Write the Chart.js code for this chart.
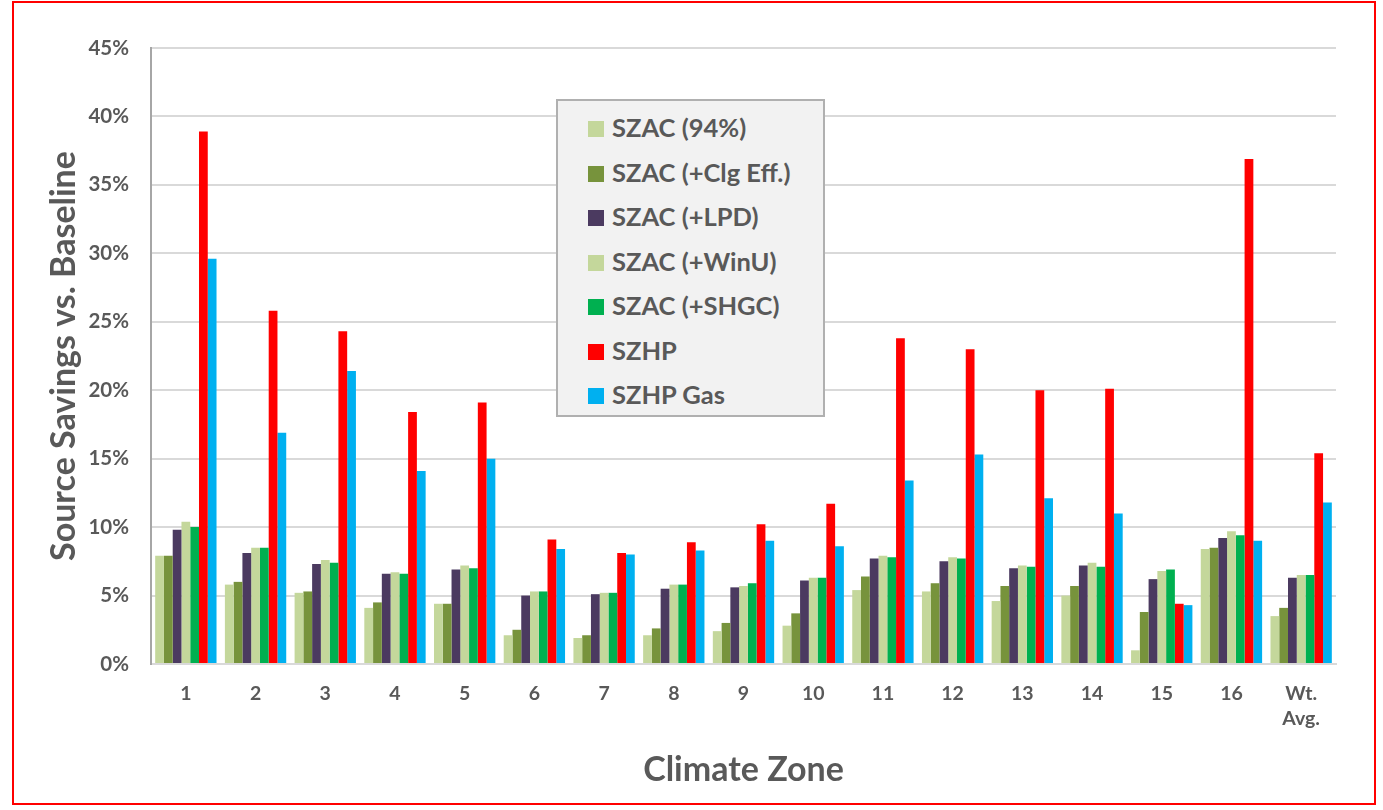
<!DOCTYPE html>
<html>
<head>
<meta charset="utf-8">
<script src="https://cdn.jsdelivr.net/npm/chart.js@4.4.1/dist/chart.umd.min.js"></script>
<style>
  html, body { margin: 0; padding: 0; background: #fff; }
  #wrap { position: relative; width: 1383px; height: 810px; overflow: hidden; }
  #frame { position: absolute; left: 12px; top: 1px; width: 1364px; height: 804px; border: 2px solid #ff0000; box-sizing: border-box; pointer-events: none; }
  #legend { position: absolute; left: 556px; top: 99px; width: 269px; height: 318px; background: #f2f2f2; border: 2px solid #b0b0b0; box-sizing: border-box; font-family: Lato, "Open Sans", sans-serif; font-weight: bold; color: #595959; font-size: 25.5px; padding-top: 4px; }
  .item { position: relative; height: 44.5px; line-height: 44.5px; padding-left: 54px; white-space: nowrap; }
  .sw { position: absolute; left: 30px; top: 16px; width: 16px; height: 16px; }
</style>
</head>
<body>
<div id="wrap">
  <canvas id="c" width="1383" height="810"></canvas>
  <div id="legend"></div>
  <div id="frame"></div>
</div>
<script>
const categories = ['1','2','3','4','5','6','7','8','9','10','11','12','13','14','15','16',['Wt.','Avg.']];
const seriesNames = ['SZAC (94%)','SZAC (+Clg Eff.)','SZAC (+LPD)','SZAC (+WinU)','SZAC (+SHGC)','SZHP','SZHP Gas'];
const seriesColors = ['#c4d79b','#77933c','#4b3a60','#c4d79b','#00b050','#ff0000','#00b0f0'];
const szac94   = [7.9, 5.8, 5.2, 4.1, 4.4, 2.1, 1.9, 2.1, 2.4, 2.8, 5.4, 5.3, 4.6, 5.0, 1.0, 8.4, 3.5];
const szacClg  = [7.9, 6.0, 5.3, 4.5, 4.4, 2.5, 2.1, 2.6, 3.0, 3.7, 6.4, 5.9, 5.7, 5.7, 3.8, 8.5, 4.1];
const szacLpd  = [9.8, 8.1, 7.3, 6.6, 6.9, 5.0, 5.1, 5.5, 5.6, 6.1, 7.7, 7.5, 7.0, 7.2, 6.2, 9.2, 6.3];
const szacWinU = [10.4, 8.5, 7.6, 6.7, 7.2, 5.3, 5.2, 5.8, 5.7, 6.3, 7.9, 7.8, 7.2, 7.4, 6.8, 9.7, 6.5];
const szacShgc = [10.0, 8.5, 7.4, 6.6, 7.0, 5.3, 5.2, 5.8, 5.9, 6.3, 7.8, 7.7, 7.1, 7.1, 6.9, 9.4, 6.5];
const szhp     = [38.9, 25.8, 24.3, 18.4, 19.1, 9.1, 8.1, 8.9, 10.2, 11.7, 23.8, 23.0, 20.0, 20.1, 4.4, 36.9, 15.4];
const szhpGas  = [29.6, 16.9, 21.4, 14.1, 15.0, 8.4, 8.0, 8.3, 9.0, 8.6, 13.4, 15.3, 12.1, 11.0, 4.3, 9.0, 11.8];
const yTicks = [0,5,10,15,20,25,30,35,40,45];

const allSeries = [szac94, szacClg, szacLpd, szacWinU, szacShgc, szhp, szhpGas];
const FONT = 'Lato, "Open Sans", sans-serif';
const GRAY = '#595959';

const chart = new Chart(document.getElementById('c'), {
  type: 'bar',
  data: {
    labels: categories,
    datasets: allSeries.map((d, i) => ({
      label: seriesNames[i],
      data: d,
      backgroundColor: seriesColors[i],
      borderWidth: 0,
      barPercentage: 1.0,
      categoryPercentage: 0.88
    }))
  },
  options: {
    responsive: false,
    animation: false,
    layout: { padding: { top: 48, right: 47, left: 0, bottom: 0 } },
    plugins: { legend: { display: false }, tooltip: { enabled: false } },
    scales: {
      x: {
        grid: { display: false, drawTicks: false },
        border: { color: '#d9d9d9', width: 2 },
        ticks: { color: GRAY, font: { family: FONT, size: 19.5, weight: 'bold', lineHeight: 1.3 }, padding: 17, maxRotation: 0, autoSkip: false },
        title: { display: true, text: 'Climate Zone', color: GRAY, font: { family: FONT, size: 34, weight: 'bold' }, padding: { top: 0, bottom: 20 } },
        afterFit: s => { s.height = 146; }
      },
      y: {
        min: 0, max: 45,
        afterBuildTicks: s => { s.ticks = yTicks.map(v => ({ value: v })); },
        grid: { color: '#d9d9d9', lineWidth: 2, drawTicks: false },
        border: { color: '#a6a6a6', width: 2 },
        ticks: { color: GRAY, font: { family: FONT, size: 20.5, weight: 'bold' }, padding: 22, callback: v => v + '%' },
        title: { display: true, text: 'Source Savings vs. Baseline', color: GRAY, font: { family: FONT, size: 34, weight: 'bold' }, padding: { top: 44, bottom: 0 } },
        afterFit: s => { s.width = 151; }
      }
    }
  }
});

const lg = document.getElementById('legend');
chart.data.datasets.forEach(ds => {
  const it = document.createElement('div');
  it.className = 'item';
  const sw = document.createElement('span');
  sw.className = 'sw';
  sw.style.background = ds.backgroundColor;
  it.appendChild(sw);
  it.appendChild(document.createTextNode(ds.label));
  lg.appendChild(it);
});
</script>
</body>
</html>
